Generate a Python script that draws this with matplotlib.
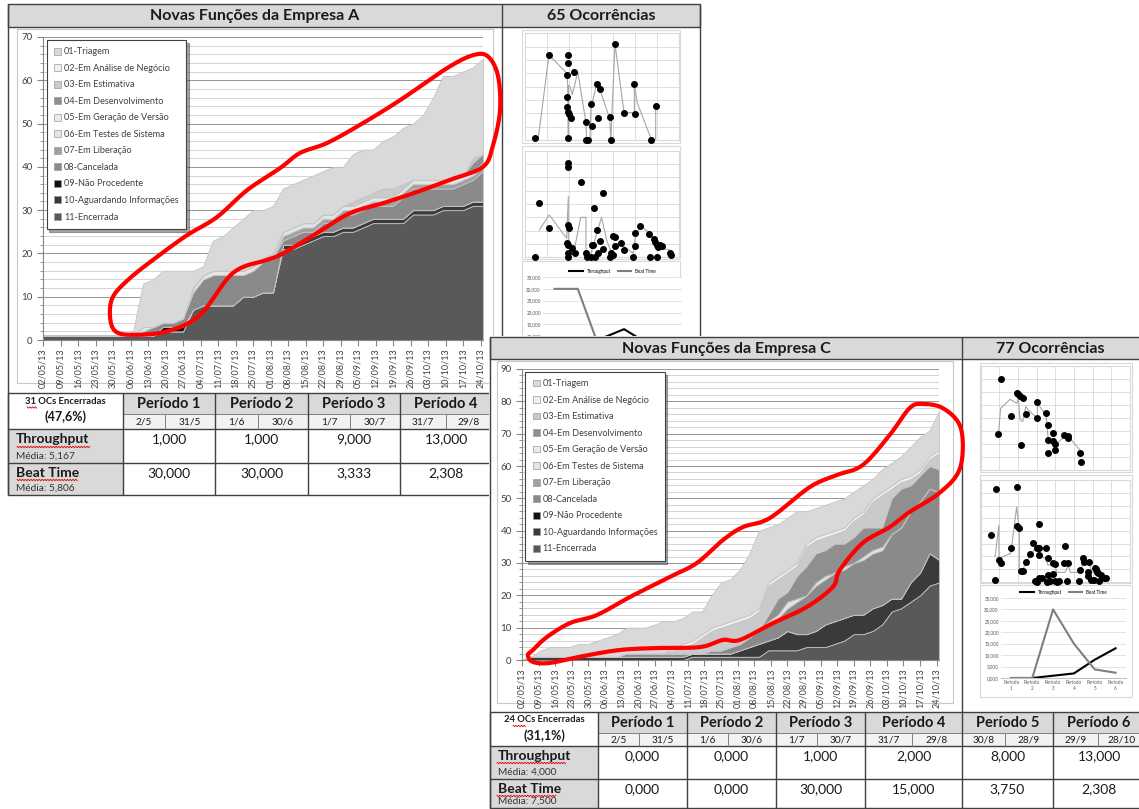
import numpy as np
import pandas as pd
import matplotlib
matplotlib.use('Agg')
import matplotlib.pyplot as plt
from matplotlib.patches import Rectangle, Patch
from matplotlib.ticker import MultipleLocator, FuncFormatter

plt.rcParams['font.family'] = ['Lato', 'DejaVu Sans']

W, H = 1139, 809

# amostras a cada 4 dias, a partir de 02/05/13
dias = np.arange(0, 177, 4)
inicio = pd.Timestamp('2013-05-02')

status = ['01-Triagem', '02-Em Análise de Negócio', '03-Em Estimativa',
          '04-Em Desenvolvimento', '05-Em Geração de Versão', '06-Em Testes de Sistema',
          '07-Em Liberação', '08-Cancelada', '09-Não Procedente',
          '10-Aguardando Informações', '11-Encerrada']
cores = ['#d9d9d9', '#f0f0f0', '#cacaca', '#8f8f8f', '#ebebeb', '#e4e4e4',
         '#a0a0a0', '#8a8a8a', '#111111', '#3a3a3a', '#595959']

# ---- Empresa A ----
triagem_a = [0, 0, 0, 0, 0, 0, 0, 0, 0, 1, 10, 11, 12, 12, 11, 4, 2, 7, 8, 10, 12, 13, 11,
             11, 10, 10, 10, 11, 10, 11, 9, 11, 11, 10, 11, 12, 13, 13, 15, 19, 24, 24, 24, 21, 22]
analise_a = [0] * 45
estimativa_a = [0, 0, 0, 0, 0, 0, 0, 0, 0, 0, 0, 0, 0, 0, 0, 0, 0, 0, 0, 0, 0, 0, 0,
                0, 0, 0, 0, 0, 0, 0, 0, 1, 1, 1, 2, 2, 1, 0, 0, 0, 0, 0, 0, 1, 0]
desenv_a = [0, 0, 0, 0, 0, 0, 0, 0, 0, 0, 0, 0, 0, 0, 0, 0, 0, 0, 0, 0, 0, 0, 0,
            0, 0, 0, 0, 0, 0, 0, 0, 0, 0, 0, 0, 0, 0, 0, 0, 0, 0, 0, 0, 2, 2]
geracao_a = [0] * 45
testes_a = [0, 0, 0, 0, 0, 0, 0, 0, 0, 0, 1, 0, 0, 0, 0, 1, 1, 1, 1, 1, 1, 1, 1,
            1, 1, 1, 1, 1, 1, 1, 1, 1, 1, 1, 1, 1, 1, 1, 1, 1, 1, 1, 1, 1, 1]
liberacao_a = [0, 0, 0, 0, 0, 0, 0, 0, 0, 0, 0, 0, 0, 0, 0, 0, 0, 0, 0, 0, 0, 0, 0,
               0, 1, 1, 1, 1, 1, 1, 1, 1, 1, 1, 1, 1, 1, 1, 1, 1, 1, 1, 1, 1, 1]
cancelada_a = [0, 0, 0, 0, 0, 0, 0, 0, 0, 0, 1, 2, 1, 1, 2, 4, 6, 7, 7, 7, 5, 6, 7,
               8, 1, 2, 2, 1, 2, 2, 3, 3, 3, 3, 3, 3, 5, 5, 5, 5, 4, 4, 5, 5, 7]
nao_proc_a = [0, 0, 0, 0, 0, 0, 0, 0, 0, 0, 0, 0, 1, 1, 1, 0, 0, 0, 0, 0, 0, 0, 0,
              0, 0, 0, 0, 0, 0, 0, 0, 0, 0, 0, 0, 0, 0, 0, 0, 0, 0, 0, 0, 0, 0]
aguardando_a = [0, 0, 0, 0, 0, 0, 0, 0, 0, 0, 0, 0, 0, 0, 0, 0, 0, 0, 0, 0, 0, 0, 0,
                0, 1, 1, 1, 1, 1, 1, 1, 1, 1, 1, 1, 1, 1, 1, 1, 1, 1, 1, 1, 1, 1]
encerrada_a = [1, 1, 1, 1, 1, 1, 1, 1, 1, 1, 1, 1, 2, 2, 2, 7, 8, 8, 8, 8, 10, 10, 11,
               11, 21, 21, 22, 23, 24, 24, 25, 25, 26, 27, 27, 27, 27, 29, 29, 29, 30, 30, 30, 31, 31]

# ---- Empresa C ----
triagem_c = [0, 0, 2, 3, 3, 3, 4, 4, 5, 6, 7, 8, 8, 8, 9, 10, 8, 8, 9, 7, 10, 13, 13,
             15, 19, 24, 17, 16, 16, 16, 10, 9, 9, 9, 9, 8, 8, 6, 7, 7, 7, 9, 10, 8, 12]
analise_c = [0, 0, 0, 0, 0, 0, 0, 0, 0, 0, 0, 0, 0, 0, 0, 0, 1, 1, 1, 1, 1, 1, 1,
             1, 1, 1, 1, 1, 1, 1, 1, 1, 1, 1, 1, 1, 1, 1, 1, 1, 1, 1, 1, 1, 1]
estimativa_c = [0, 0, 0, 0, 0, 0, 0, 0, 0, 0, 0, 0, 0, 0, 0, 0, 1, 2, 3, 5, 6, 7, 7,
                7, 6, 6, 9, 6, 6, 3, 6, 4, 4, 3, 4, 5, 4, 8, 10, 3, 2, 2, 1, 2, 5]
desenv_c = [0, 0, 0, 0, 0, 0, 0, 0, 0, 0, 0, 0, 0, 0, 0, 0, 0, 0, 0, 0, 0, 0, 0,
            0, 0, 0, 2, 5, 3, 7, 9, 9, 8, 9, 7, 8, 9, 7, 6, 11, 12, 8, 8, 7, 7]
geracao_c = [0] * 45
testes_c = [0, 0, 0, 0, 0, 0, 0, 0, 0, 0, 0, 0, 0, 0, 0, 0, 0, 0, 0, 0, 0, 0, 0,
            0, 0, 0, 1, 1, 2, 1, 0, 1, 1, 0, 1, 0, 1, 1, 1, 0, 0, 0, 0, 0, 0]
liberacao_c = [0] * 45
cancelada_c = [0, 0, 0, 0, 0, 0, 0, 0, 0, 0, 0, 1, 1, 1, 1, 1, 1, 1, 0, 0, 1, 1, 2,
               2, 3, 4, 5, 6, 7, 10, 12, 14, 14, 15, 15, 16, 17, 17, 17, 20, 22, 22, 22, 20, 21]
nao_proc_c = [0] * 45
aguardando_c = [0, 1, 1, 1, 1, 1, 1, 1, 1, 1, 1, 1, 1, 1, 1, 1, 1, 1, 1, 1, 1, 1, 1,
                2, 3, 4, 3, 4, 6, 5, 4, 5, 7, 7, 7, 6, 6, 7, 6, 4, 3, 6, 7, 10, 7]
encerrada_c = [0, 0, 0, 0, 0, 0, 0, 0, 0, 0, 0, 0, 0, 0, 0, 0, 0, 0, 1, 1, 1, 1, 1,
               1, 1, 1, 3, 3, 3, 3, 4, 4, 4, 5, 6, 8, 8, 9, 11, 15, 16, 18, 20, 23, 24]

# tempos por ocorrência (mini gráficos de dispersão)
a1_x = [0.45, 1.09, 1.97, 1.94, 1.92, 1.89, 1.89, 1.97, 2.0, 2.09, 1.97, 2.23, 2.77, 2.77,
        2.85, 2.98, 3.03, 3.26, 3.41, 3.33, 3.86, 3.89, 4.09, 4.5, 4.97, 5.0, 5.71, 5.94]
a1_y = [0.12, 6.38, 6.38, 5.75, 4.88, 3.25, 2.45, 2.13, 1.93, 1.63, 0.13, 5.13, 1.35, 0.0,
        0.0, 2.7, 1.05, 4.2, 3.8, 1.65, 1.75, 0.0, 7.18, 2.05, 4.2, 1.95, 0.0, 2.55]
a1_mx = [0.45, 0.6, 1.09, 1.9, 1.95, 1.97, 1.97, 2.05, 2.15, 2.4, 2.77, 2.8, 2.95, 3.0, 3.26,
         3.4, 3.85, 3.9, 4.09, 4.5, 4.97, 4.97, 5.1, 5.75, 5.94, 5.94]
a1_my = [0.1, 0.1, 6.38, 5.0, 4.0, 0.13, 4.1, 4.0, 3.4, 5.1, 1.3, 0.0, 0.0, 2.4, 4.2,
         3.8, 1.6, 0.0, 7.2, 2.05, 2.05, 4.2, 2.8, 0.0, 0.0, 2.55]

a2_x = [0.45, 0.65, 1.1, 1.94, 1.97, 1.94, 2.0, 1.89, 1.94, 1.97, 1.97, 2.12, 2.27, 2.53, 2.77,
        2.83, 3.03, 3.1, 3.12, 3.26, 3.41, 3.53, 3.56, 3.18, 3.0, 3.33, 3.89, 3.86, 4.02, 4.09,
        4.09, 4.02, 4.35, 4.5, 4.92, 4.99, 4.99, 5.23, 5.65, 5.68, 5.86, 5.91, 5.98, 6.06, 6.14,
        6.21, 6.02, 6.59, 6.62]
a2_y = [0, 4.1, 2.2, 6.8, 7.05, 2.4, 2.2, 1.05, 0.9, 0.3, 0, 0.68, 0.35, 5.68, 0.3,
        0, 0.93, 0.93, 3.68, 2.05, 1.25, 4.85, 0.6, 0, 0, 0.3, 0.3, 0, 1.63, 1.5,
        0.88, 0.18, 1.05, 0.55, 0, 1.8, 0.88, 2.38, 1.73, 0, 1.35, 1.18, 0.93, 0.8, 0.93,
        0.88, 0, 0.3, 0.18]
a2_mx = [0.65, 1.1, 1.89, 1.97, 1.97, 2.27, 2.53, 2.77, 2.77, 2.95, 3.1, 3.26, 3.48, 3.71,
         3.94, 4.17, 4.5, 4.92, 4.99, 5.23, 5.68, 5.91, 6.14, 6.59, 6.62]
a2_my = [2.05, 3.18, 1.43, 4.55, 0.8, 0.8, 3.0, 3.0, 0.3, 0.05, 0.8, 1.8, 3.0, 1.3,
         0.3, 1.05, 0.8, 0.3, 1.3, 2.38, 1.8, 1.3, 0.68, 0.55, 0.3]

c1_x = [1.07, 0.95, 1.61, 1.93, 2.02, 2.11, 2.25, 2.14, 2.41, 3.0, 3.04, 3.5, 3.63, 3.63,
        3.63, 3.86, 3.86, 3.98, 3.98, 4.48, 4.66, 4.7, 5.32, 5.36]
c1_y = [6.97, 2.77, 4.15, 5.95, 5.82, 5.69, 5.51, 1.92, 4.28, 5.21, 4.03, 4.41, 3.46, 2.31,
        1.28, 2.82, 2.23, 1.54, 1.97, 2.69, 2.64, 2.49, 1.33, 0.59]
c1_mx = [0.95, 1.07, 1.57, 1.93, 2.02, 2.11, 2.25, 2.41, 2.64, 3.04, 3.04, 3.5, 3.63, 3.86,
         3.98, 4.48, 4.7, 5.32, 5.36]
c1_my = [2.77, 4.74, 5.44, 5.13, 5.51, 3.85, 3.72, 4.87, 4.49, 3.97, 5.13, 4.23, 2.18, 2.23,
         1.92, 2.56, 2.56, 1.54, 1.28]

c2_x = [0.8, 1.93, 0.55, 0.77, 0.98, 1.07, 1.61, 1.93, 2.05, 2.14, 2.25, 2.41, 2.64, 2.82,
        2.91, 3.0, 3.13, 3.04, 3.14, 3.13, 3.13, 3.27, 3.5, 3.59, 3.57, 3.63, 3.71, 3.86,
        3.89, 3.98, 4.07, 4.2, 3.98, 4.52, 4.46, 4.7, 4.64, 5.32, 5.29, 5.5, 5.54, 5.77,
        5.82, 5.73, 5.89, 6.07, 6.13, 6.18, 6.25, 6.3, 6.36, 6.43, 6.61, 6.71]
c2_y = [7.29, 7.5, 3.68, 0.13, 1.71, 1.45, 2.68, 4.42, 4.21, 0.84, 0.84, 1.53, 2.16, 3.03,
        0.05, 0, 4.53, 2.63, 2.63, 2.1, 0.26, 0.32, 2.63, 1.84, 0, 0.53, 0.08, 0.58,
        1.45, 1.37, 0, 0.05, 0.05, 2.84, 1.45, 1.45, 0.05, 0.92, 0.05, 1.89, 1.58, 0.79,
        1.58, 0.47, 0.13, 0.13, 1.1, 0.97, 0.79, 0.66, 0.05, 0.53, 0.32, 0.32]
c2_mx = [0.77, 0.98, 0.98, 1.61, 1.93, 2.07, 2.07, 2.25, 2.41, 2.64, 2.91, 3.04, 3.13, 3.5,
         3.59, 3.98, 4.07, 4.52, 4.7, 4.79, 5.32, 5.5, 5.77, 5.95, 6.13, 6.39, 6.66]
c2_my = [1.97, 4.47, 1.84, 2.24, 5.92, 3.95, 0.79, 0.84, 1.58, 1.97, 2.63, 2.63, 2.1, 1.79,
         1.32, 1.32, 0.74, 0.74, 1.32, 0.74, 0.74, 1.58, 1.58, 0.79, 0.66, 0.53, 0.32]

# throughput e beat time por período
periodos = ['Período 1', 'Período 2', 'Período 3', 'Período 4', 'Período 5', 'Período 6']
datas_ini = ['2/5', '1/6', '1/7', '31/7', '30/8', '29/9']
datas_fim = ['31/5', '30/6', '30/7', '29/8', '28/9', '28/10']
throughput_a = [1, 1, 9, 13, 7, 0]
beat_a = [30, 30, 3.333, 2.308, 4.286, 0]
throughput_c = [0, 0, 1, 2, 8, 13]
beat_c = [0, 0, 30, 15, 3.75, 2.308]
media_tp_a, media_bt_a = 5.167, 5.806
media_tp_c, media_bt_c = 4.000, 7.500
encerradas_a, pct_a, total_a = 31, 47.6, 65
encerradas_c, pct_c, total_c = 24, 31.1, 77

# contornos destacados à mão (dia, quantidade)
laco_a_dias = [26.8, 28, 34.8, 45.6, 57.6, 69.6, 81.6, 94.8, 102.8, 113.6, 126.8, 142.8,
               161.6, 172, 178, 182, 182.8, 180, 176, 162.8, 149.6, 136, 122.8, 109.6, 96,
               89.6, 76, 62.8, 49.6, 36, 29]
laco_a_val = [5.4, 10, 14.3, 19.2, 24.2, 28.4, 34.6, 39.7, 43.2, 45.5, 49.7, 55.4, 62.8,
              65.8, 65.5, 61, 53, 45, 40, 37, 34.2, 31.6, 29.3, 24.7, 20, 18.5, 15.5, 5.8,
              2, 1.2, 2]
laco_c_dias = [2.5, 4.6, 10.5, 20.2, 31.6, 45.6, 62.4, 73.8, 84.8, 93.2, 104.6, 121.5,
               132.9, 143.8, 155.2, 163.6, 169.1, 177.6, 184.7, 186, 183.5, 175, 163.6,
               155.2, 143.8, 134.1, 131.2, 120.2, 105.9, 91.9, 84.8, 75.1, 56.9, 41.3,
               25.7, 11.8, 4.6]
laco_c_val = [1.5, 3.1, 7.1, 11.4, 13.9, 19.5, 25.7, 30, 37.1, 41.1, 43.9, 53.5, 57.2,
              60.3, 69.6, 77.9, 79.2, 77.9, 72.7, 64.3, 57.2, 51, 45.8, 41.1, 36.2, 27.8,
              22.6, 16.4, 11.4, 6.2, 6.2, 4, 3.7, 3.1, 1.2, -0.9, -0.6]


def br(v):
    return f'{v:.3f}'.replace('.', ',')


def px(x0, y0, x1, y1):
    return [x0 / W, 1 - y1 / H, (x1 - x0) / W, (y1 - y0) / H]


def fundo(nome):
    ax = fig.add_axes([0, 0, 1, 1], label=nome)
    ax.set_xlim(0, W)
    ax.set_ylim(H, 0)
    ax.axis('off')
    return ax


def seg(ax, xs, ys, cor='#404040', lw=1.0):
    ax.plot(xs, ys, color=cor, lw=lw, solid_capstyle='butt')


def moldura(ax, x0, y0, x1, y1, cor='#c8c8c8'):
    ax.add_patch(Rectangle((x0, y0), x1 - x0, y1 - y0, fc='white', ec=cor, lw=0.8))


def sublinhado(ax, x0, x1, y):
    xs = np.arange(x0, x1, 1.4)
    ys = y + 0.7 * np.where(np.arange(len(xs)) % 2 == 0, -1, 1)
    ax.plot(xs, ys, color='#e00000', lw=0.6)


def suave(xs, ys, n=10):
    p = np.column_stack([xs, ys])
    m = len(p)
    t = np.linspace(0, 1, n, endpoint=False)[:, None]
    partes = []
    for i in range(m):
        p0, p1, p2, p3 = p[i - 1], p[i], p[(i + 1) % m], p[(i + 2) % m]
        partes.append(0.5 * (2 * p1 + (p2 - p0) * t + (2 * p0 - 5 * p1 + 4 * p2 - p3) * t ** 2
                             + (3 * p1 - p0 - 3 * p2 + p3) * t ** 3))
    c = np.vstack(partes + [p[:1]])
    return c[:, 0], c[:, 1]


def grafico_area(rect, camadas, ymax, laco_x, laco_y):
    ax = fig.add_axes(rect)
    ax.stackplot(dias, *camadas[::-1], colors=cores[::-1], edgecolor='#c4c4c4', linewidth=0.6)
    ax.set_xlim(0, 176)
    ax.set_ylim(0, ymax)
    ax.yaxis.set_major_locator(MultipleLocator(10))
    ax.yaxis.set_minor_locator(MultipleLocator(2))
    ax.grid(axis='y', which='minor', color='#cdcdcd', lw=0.6)
    ax.grid(axis='y', which='major', color='#969696', lw=0.7)
    ax.set_axisbelow(True)
    ticks = np.arange(0, 176, 7)
    ax.set_xticks(ticks)
    ax.set_xticklabels((inicio + pd.to_timedelta(ticks, unit='D')).strftime('%d/%m/%y'),
                       rotation=90, fontsize=6.5)
    ax.tick_params(labelcolor='#404040', color='#868686', which='both', direction='out')
    ax.tick_params(axis='y', labelsize=7, length=4)
    ax.tick_params(axis='y', which='minor', length=2.5)
    ax.tick_params(axis='x', length=4, pad=2)
    for s in ('top', 'right'):
        ax.spines[s].set_visible(False)
    for s in ('left', 'bottom'):
        ax.spines[s].set_color('#868686')
    alcas = [Patch(facecolor=c, edgecolor='#9a9a9a', lw=0.5) for c in cores]
    leg = ax.legend(alcas, status, loc='upper left', bbox_to_anchor=(0.008, 0.99),
                    fontsize=6.6, labelspacing=0.82, handlelength=0.75, handleheight=0.75,
                    handletextpad=0.35, borderpad=0.8, borderaxespad=0, fancybox=False,
                    shadow=True, edgecolor='#404040', framealpha=1)
    leg.get_frame().set_linewidth(0.8)
    for t in leg.get_texts():
        t.set_color('#404040')
    lx, ly = suave(laco_x, laco_y)
    ax.plot(lx, ly, color='#ff0000', lw=3, clip_on=False, solid_capstyle='round', zorder=10)
    return ax


def mini_dispersao(rect, xmax, x, y, mx, my):
    ax = fig.add_axes(rect)
    ax.plot(mx, my, color='#a6a6a6', lw=0.8, zorder=2)
    ax.scatter(x, y, s=16, color='black', zorder=3, clip_on=False)
    ax.set_xlim(0, xmax)
    ax.set_ylim(0, 8)
    ax.set_xticks(range(xmax + 1))
    ax.set_yticks(range(9))
    ax.grid(color='#d9d9d9', lw=0.6)
    ax.set_axisbelow(True)
    ax.tick_params(length=0, labelbottom=False, labelleft=False)
    for s in ax.spines.values():
        s.set_color('#d9d9d9')
    return ax


def mini_linhas(rect, tp, bt, ymin=0, rotulos_x=True, fs=3.3):
    ax = fig.add_axes(rect)
    x = np.arange(1, 7)
    ax.plot(x, tp, color='black', lw=1.5, label='Throughput')
    ax.plot(x, bt, color='#7f7f7f', lw=1.5, label='Beat Time')
    ax.set_xlim(0.5, 6.5)
    ax.set_ylim(ymin, 35)
    ax.yaxis.set_major_locator(MultipleLocator(5))
    ax.yaxis.set_major_formatter(FuncFormatter(lambda v, p: br(v)))
    ax.set_xticks(x)
    if rotulos_x:
        ax.set_xticklabels([p.replace(' ', '\n') for p in periodos], fontsize=fs, color='#595959')
    else:
        ax.set_xticklabels([])
    ax.tick_params(axis='y', labelsize=fs, labelcolor='#595959', length=0, pad=1.5)
    ax.tick_params(axis='x', length=0, pad=1.5)
    ax.grid(axis='y', color='#d9d9d9', lw=0.5)
    ax.set_axisbelow(True)
    for s in ('left', 'top', 'right'):
        ax.spines[s].set_visible(False)
    ax.spines['bottom'].set_color('#bfbfbf')
    if not rotulos_x:
        ax.spines['bottom'].set_visible(False)
    ax.legend(loc='lower center', bbox_to_anchor=(0.5, 1.0), ncol=2, fontsize=fs,
              frameon=False, handlelength=3, columnspacing=1.5, borderaxespad=0.3)
    return ax


def tabela(ax, x0, cols, splits, ys, n_enc, pct, tp, bt, med_tp, med_bt, subl):
    yt, yh1, yh2, yr1, yr2 = ys
    xe = cols[-1]
    n = len(cols) - 1
    ax.add_patch(Rectangle((cols[0], yt), xe - cols[0], yh1 - yt, fc='#d9d9d9', ec='none'))
    ax.add_patch(Rectangle((cols[0], yh1), xe - cols[0], yh2 - yh1, fc='#f2f2f2', ec='none'))
    ax.add_patch(Rectangle((x0, yh2), cols[0] - x0, yr2 - yh2, fc='#d9d9d9', ec='none'))
    for y in (yt, yh2, yr1, yr2):
        seg(ax, [x0, xe], [y, y])
    seg(ax, [cols[0], xe], [yh1, yh1], '#7f7f7f', 0.7)
    for x in [x0] + list(cols):
        seg(ax, [x, x], [yt, yr2])
    for s in splits[:n]:
        seg(ax, [s, s], [yh1, yh2], '#7f7f7f', 0.7)
    xc = (x0 + cols[0]) / 2
    ax.text(xc, yt + 8, f'{n_enc} OCs Encerradas', ha='center', va='center', fontsize=6.8,
            fontweight='bold', color='#1a1a1a')
    ax.text(xc, yt + 24, f'({pct:.1f}%)'.replace('.', ','), ha='center', va='center',
            fontsize=9, fontweight='bold', color='#1a1a1a')
    ax.text(x0 + 8, yh2 + 10, 'Throughput', ha='left', va='center', fontsize=10,
            fontweight='bold', color='#1a1a1a')
    ax.text(x0 + 8, yr1 - 7, f'Média: {br(med_tp)}', ha='left', va='center', fontsize=7.3,
            color='#333333')
    ax.text(x0 + 8, yr1 + 10, 'Beat Time', ha='left', va='center', fontsize=10,
            fontweight='bold', color='#1a1a1a')
    ax.text(x0 + 8, yr2 - 7, f'Média: {br(med_bt)}', ha='left', va='center', fontsize=7.3,
            color='#333333')
    for i in range(n):
        a, b = cols[i], cols[i + 1]
        ax.text((a + b) / 2, (yt + yh1) / 2 + 0.5, periodos[i], ha='center', va='center',
                fontsize=10.5, fontweight='bold', color='#1a1a1a')
        ax.text((a + splits[i]) / 2, (yh1 + yh2) / 2 + 0.5, datas_ini[i], ha='center',
                va='center', fontsize=7.3, color='#1a1a1a')
        ax.text((splits[i] + b) / 2, (yh1 + yh2) / 2 + 0.5, datas_fim[i], ha='center',
                va='center', fontsize=7.3, color='#1a1a1a')
        ax.text((a + b) / 2, yh2 + 10, br(tp[i]), ha='center', va='center', fontsize=10,
                color='#1a1a1a')
        ax.text((a + b) / 2, yr1 + 10, br(bt[i]), ha='center', va='center', fontsize=10,
                color='#1a1a1a')
    for x_a, x_b, y in subl:
        sublinhado(ax, x_a, x_b, y)


fig = plt.figure(figsize=(W / 100, H / 100), dpi=100)

# ===== painel da Empresa A =====
fa = fundo('fundo_a')
moldura(fa, 17, 29, 493, 383)
moldura(fa, 522, 30, 680, 143, '#d9d9d9')
moldura(fa, 522, 146, 680, 259, '#d9d9d9')
moldura(fa, 522, 261, 680, 362, '#d9d9d9')
fa.add_patch(Rectangle((8, 4), 692, 23, fc='#d9d9d9', ec='#404040', lw=1))
seg(fa, [8, 8], [4, 495])
seg(fa, [700, 700], [4, 392])
seg(fa, [502, 502], [4, 392])
fa.text(255, 16, 'Novas Funções da Empresa A', ha='center', va='center', fontsize=11.5,
        fontweight='bold', color='#1a1a1a')
fa.text(601, 16, f'{total_a} Ocorrências', ha='center', va='center', fontsize=11.5,
        fontweight='bold', color='#1a1a1a')
# só os quatro primeiros períodos ficam à vista ao lado do painel C
tabela(fa, 8, [123, 215, 308, 400, 492], [165, 258, 350, 446],
       (393, 414, 429, 463, 495), encerradas_a, pct_a, throughput_a, beat_a,
       media_tp_a, media_bt_a, [(27, 37, 407.5), (17, 90, 447), (17, 78, 480)])

camadas_a = [triagem_a, analise_a, estimativa_a, desenv_a, geracao_a, testes_a,
             liberacao_a, cancelada_a, nao_proc_a, aguardando_a, encerrada_a]
grafico_area(px(43, 37, 483, 340), camadas_a, 70, laco_a_dias, laco_a_val)
mini_dispersao(px(525, 33.3, 679, 140), 7, a1_x, a1_y, a1_mx, a1_my)
mini_dispersao(px(525, 150.7, 679, 257.3), 7, a2_x, a2_y, a2_mx, a2_my)
# parte superior do gráfico de períodos (o resto fica sob o painel C)
mini_linhas(px(543, 277, 682, 337), throughput_a, beat_a, ymin=35 - 35 * 60 / 83,
            rotulos_x=False)

# ===== painel da Empresa C =====
fc = fundo('fundo_c')
fc.add_patch(Rectangle((489, 336), W - 489, H - 336, fc='white', ec='none'))
moldura(fc, 497, 361, 953, 703)
moldura(fc, 980, 363, 1132, 472, '#d9d9d9')
moldura(fc, 980, 475, 1132, 583, '#d9d9d9')
moldura(fc, 980, 585, 1132, 697, '#d9d9d9')
fc.add_patch(Rectangle((490, 337), W - 489, 22, fc='#d9d9d9', ec='#404040', lw=1))
seg(fc, [490, 490], [337, 809])
seg(fc, [962, 962], [337, 712])
fc.text(726, 349, 'Novas Funções da Empresa C', ha='center', va='center', fontsize=11.5,
        fontweight='bold', color='#1a1a1a')
fc.text(1050, 349, f'{total_c} Ocorrências', ha='center', va='center', fontsize=11.5,
        fontweight='bold', color='#1a1a1a')
tabela(fc, 490, [598, 687, 776, 865, 962, 1053, 1145], [639, 728, 817, 912, 1005, 1098],
       (712, 733, 746, 779, 808), encerradas_c, pct_c, throughput_c, beat_c,
       media_tp_c, media_bt_c, [(513, 526, 726), (497, 567, 763), (497, 556, 796)])

camadas_c = [triagem_c, analise_c, estimativa_c, desenv_c, geracao_c, testes_c,
             liberacao_c, cancelada_c, nao_proc_c, aguardando_c, encerrada_c]
grafico_area(px(522, 369, 939, 660), camadas_c, 90, laco_c_dias, laco_c_val)
mini_dispersao(px(980.7, 366, 1130, 470), 8, c1_x, c1_y, c1_mx, c1_my)
mini_dispersao(px(980.7, 480.3, 1130, 581.7), 8, c2_x, c2_y, c2_mx, c2_my)
mini_linhas(px(1001, 598, 1126, 678), throughput_c, beat_c)

fig.savefig('out.png', dpi=100)
